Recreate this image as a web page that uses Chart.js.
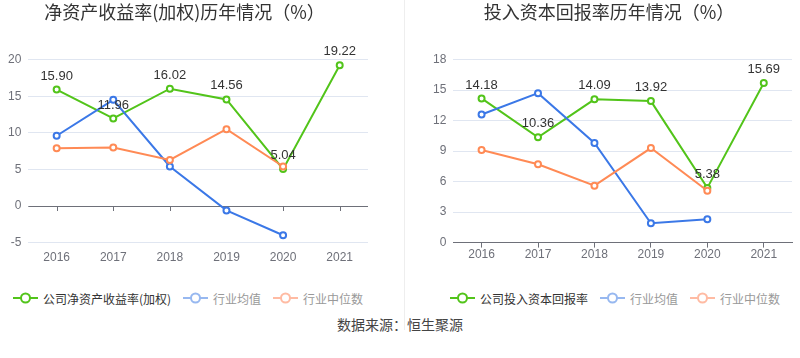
<!DOCTYPE html>
<html><head><meta charset="utf-8">
<script src="https://cdn.jsdelivr.net/npm/chart.js@4.4.0/dist/chart.umd.min.js"></script>
<style>
html,body{margin:0;padding:0;background:#fff;}
body{width:800px;height:358px;position:relative;overflow:hidden;font-family:"Liberation Sans","Noto Sans CJK SC",sans-serif;}
#w1{position:absolute;left:0;top:0;width:375px;height:268px;}
#w2{position:absolute;left:426px;top:0;width:372px;height:262px;}
#div{position:absolute;left:404px;top:0;width:1px;height:330px;background:#eeeeee;}
#src{position:absolute;left:0;width:800px;top:314px;text-align:center;font-size:14px;color:#444;font-family:"Noto Sans CJK SC",sans-serif;}
.lg{position:absolute;top:289px;height:18px;display:flex;justify-content:center;align-items:center;font-size:12px;font-family:"Noto Sans CJK SC",sans-serif;white-space:nowrap;}
.lg .it{display:flex;align-items:center;margin:0 6px;}
.lg canvas{margin-right:5px;}
#lg1{left:0;width:376px;}
#lg2{left:426px;width:378px;}
</style></head><body>
<div id="w1"><canvas id="c1"></canvas></div>
<div id="div"></div>
<div id="w2"><canvas id="c2"></canvas></div>
<div class="lg" id="lg1"></div>
<div class="lg" id="lg2"></div>
<div id="src">数据来源：恒生聚源</div>
<script>
const years = ['2016','2017','2018','2019','2020','2021'];
// 净资产收益率(加权)
const roeCompany = [15.90, 11.96, 16.02, 14.56, 5.04, 19.22];
const roeAvg     = [9.6, 14.5, 5.4, -0.6, -4.0, null];
const roeMedian  = [7.9, 8.0, 6.3, 10.5, 5.4, null];
const roeTicks   = {min:-5, max:20, step:5};
// 投入资本回报率
const roicCompany = [14.18, 10.36, 14.09, 13.92, 5.38, 15.69];
const roicAvg     = [12.6, 14.7, 9.8, 1.9, 2.3, null];
const roicMedian  = [9.1, 7.7, 5.6, 9.3, 5.1, null];
const roicTicks   = {min:0, max:18, step:3};

const GREEN='#52c41a', BLUE='#3b78e7', ORANGE='#ff8a55';
const LBLUE='#97b8f0', LORANGE='#ffbba3';
const FONT='"Liberation Sans","Noto Sans CJK SC",sans-serif';

function icon(color){
  const c=document.createElement('canvas'); c.width=25; c.height=14;
  const g=c.getContext('2d');
  g.strokeStyle=color; g.lineWidth=2;
  g.beginPath(); g.moveTo(0,7); g.lineTo(25,7); g.stroke();
  g.beginPath(); g.arc(12.5,7,4.5,0,Math.PI*2); g.fillStyle='#fff'; g.fill(); g.stroke();
  return c;
}
function legend(id, items){
  const box=document.getElementById(id);
  items.forEach(([text,color,tc])=>{
    const it=document.createElement('div'); it.className='it';
    it.appendChild(icon(color));
    const s=document.createElement('span'); s.textContent=text; s.style.color=tc;
    it.appendChild(s); box.appendChild(it);
  });
}

const labelPlugin={
  id:'vlabels',
  afterDatasetsDraw(chart){
    const ctx=chart.ctx; const meta=chart.getDatasetMeta(0);
    const data=chart.data.datasets[0].data;
    ctx.save(); ctx.font='13px '+FONT; ctx.fillStyle='#333'; ctx.textAlign='center'; ctx.textBaseline='bottom';
    meta.data.forEach((p,i)=>{ if(data[i]!=null) ctx.fillText(data[i].toFixed(2), p.x, p.y-7); });
    ctx.restore();
  }
};
const zeroAxisPlugin={
  id:'zeroaxis',
  beforeDatasetsDraw(chart){
    const y=Math.round(chart.scales.y.getPixelForValue(0)), xs=chart.scales.x, ctx=chart.ctx;
    ctx.save(); ctx.strokeStyle='#6e7079'; ctx.lineWidth=1;
    ctx.beginPath(); ctx.moveTo(chart.chartArea.left, y+0.5); ctx.lineTo(chart.chartArea.right, y+0.5); ctx.stroke();
    years.forEach((yr,i)=>{ const x=Math.round(xs.getPixelForValue(i))+0.5; ctx.beginPath(); ctx.moveTo(x,y); ctx.lineTo(x,y+5); ctx.stroke(); });
    ctx.restore();
  }
};

function make(id, title, name, comp, avg, med, tk, pad, zeroInside){
  const ds=(label,data,color,order)=>({label,data,borderColor:color,backgroundColor:'#fff',borderWidth:2,
    pointRadius:3,pointBorderWidth:2,pointBackgroundColor:'#fff',pointBorderColor:color,tension:0,order,spanGaps:false});
  new Chart(document.getElementById(id),{
    type:'line',
    data:{labels:years,datasets:[ds(name,comp,GREEN,2),ds('行业均值',avg,BLUE,1),ds('行业中位数',med,ORANGE,0)]},
    plugins: zeroInside?[zeroAxisPlugin,labelPlugin]:[labelPlugin],
    options:{
      responsive:true,maintainAspectRatio:false,animation:false,
      layout:{padding:pad},
      plugins:{
        tooltip:{enabled:false},
        legend:{display:false},
        title:{display:true,text:title,color:'#333',font:{size:18,family:'"Noto Sans CJK SC",sans-serif',weight:'normal'},padding:{top:1,bottom:37}}
      },
      scales:{
        x:{offset:true,
          grid:{display:!zeroInside,drawOnChartArea:false,drawTicks:true,tickLength:5,offset:false,color:'#6e7079'},
          border:{display:!zeroInside,color:'#6e7079'},
          ticks:{color:'#6e7079',font:{size:12,family:FONT},padding:zeroInside?3:0,maxRotation:0}},
        y:{min:tk.min,max:tk.max,
          grid:{drawTicks:false,color:(c)=> (!zeroInside && c.tick && c.tick.value===0)?'#6e7079':'#e0e6f1'},
          border:{display:false},
          ticks:{stepSize:tk.step,color:'#6e7079',font:{size:12,family:FONT},padding:7}}
      }
    }
  });
}
make('c1','净资产收益率(加权)历年情况（%）','公司净资产收益率(加权)',roeCompany,roeAvg,roeMedian,roeTicks,{left:1,right:7,top:0,bottom:0},true);
make('c2','投入资本回报率历年情况（%）','公司投入资本回报率',roicCompany,roicAvg,roicMedian,roicTicks,{left:0,right:6,top:0,bottom:0},false);
legend('lg1',[['公司净资产收益率(加权)',GREEN,'#333'],['行业均值',LBLUE,'#999'],['行业中位数',LORANGE,'#999']]);
legend('lg2',[['公司投入资本回报率',GREEN,'#333'],['行业均值',LBLUE,'#999'],['行业中位数',LORANGE,'#999']]);
</script>
</body></html>
